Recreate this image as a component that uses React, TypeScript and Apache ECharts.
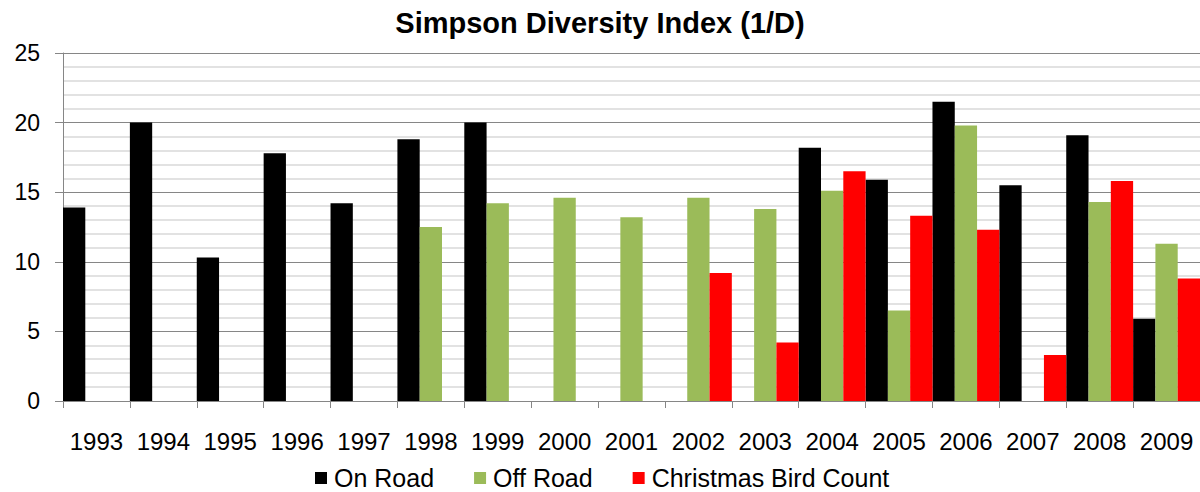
import React, { useEffect, useRef } from "react";
import * as echarts from "echarts";

const years = ["1993", "1994", "1995", "1996", "1997", "1998", "1999", "2000", "2001", "2002", "2003", "2004", "2005", "2006", "2007", "2008", "2009"];
const onRoad = [13.9, 20.0, 10.3, 17.8, 14.2, 18.8, 20.0, null, null, null, null, 18.2, 15.9, 21.5, 15.5, 19.1, 5.9];
const offRoad = [null, null, null, null, null, 12.5, 14.2, 14.6, 13.2, 14.6, 13.8, 15.1, 6.5, 19.8, null, 14.3, 11.3];
const christmasBirdCount = [null, null, null, null, null, null, null, null, null, 9.2, 4.2, 16.5, 13.3, 12.3, 3.3, 15.8, 8.8];
const yTicks = [0, 5, 10, 15, 20, 25];

const FONT = "'Liberation Sans', Arial, sans-serif";

export default function App() {
  const ref = useRef<HTMLDivElement>(null);
  useEffect(() => {
    if (!ref.current) return;
    const chart = echarts.init(ref.current, null, { renderer: "svg" });
    chart.setOption({
      animation: false,
      backgroundColor: "#ffffff",
      title: {
        text: "Simpson Diversity Index (1/D)",
        left: "center",
        top: 3,
        textStyle: { fontFamily: FONT, fontSize: 29, fontWeight: "bold", color: "#000" },
      },
      legend: {
        left: 315,
        top: 465,
        padding: 0,
        itemWidth: 12,
        itemHeight: 12,
        itemGap: 40,
        icon: "rect",
        textStyle: { fontFamily: FONT, fontSize: 25, lineHeight: 26, color: "#000", padding: [0, 0, 0, 2] },
        data: ["On Road", "Off Road", "Christmas Bird Count"],
      },
      grid: { left: 63, right: -2, top: 53, bottom: 91, containLabel: false },
      xAxis: {
        type: "category",
        data: years,
        boundaryGap: true,
        axisLine: { show: true, lineStyle: { color: "#868686", width: 1 } },
        axisTick: { show: true, length: 7, alignWithLabel: false, lineStyle: { color: "#868686" } },
        axisLabel: { fontFamily: FONT, fontSize: 24, color: "#000", margin: 28, interval: 0 },
        splitLine: { show: false },
      },
      yAxis: {
        type: "value",
        min: yTicks[0],
        max: yTicks[yTicks.length - 1],
        interval: 5,
        axisLine: { show: true, lineStyle: { color: "#868686", width: 1 } },
        axisTick: { show: true, length: 8, lineStyle: { color: "#868686" } },
        axisLabel: { fontFamily: FONT, fontSize: 23, color: "#000", margin: 23 },
        splitLine: { show: true, lineStyle: { color: "#868686", width: 1 } },
        minorTick: { show: false, splitNumber: 5 },
        minorSplitLine: { show: true, lineStyle: { color: "#d9d9d9", width: 1.5 } },
      },
      series: [
        { name: "On Road", type: "bar", data: onRoad, barGap: "0%", barCategoryGap: "0%", itemStyle: { color: "#000000" } },
        { name: "Off Road", type: "bar", data: offRoad, barGap: "0%", barCategoryGap: "0%", itemStyle: { color: "#9BBB59" } },
        { name: "Christmas Bird Count", type: "bar", data: christmasBirdCount, barGap: "0%", barCategoryGap: "0%", itemStyle: { color: "#FF0000" } },
      ],
    });
    return () => chart.dispose();
  }, []);
  return (
    <div
      ref={ref}
      style={{ position: "absolute", left: 0, top: 0, width: 1200, height: 492, background: "#fff" }}
    />
  );
}
